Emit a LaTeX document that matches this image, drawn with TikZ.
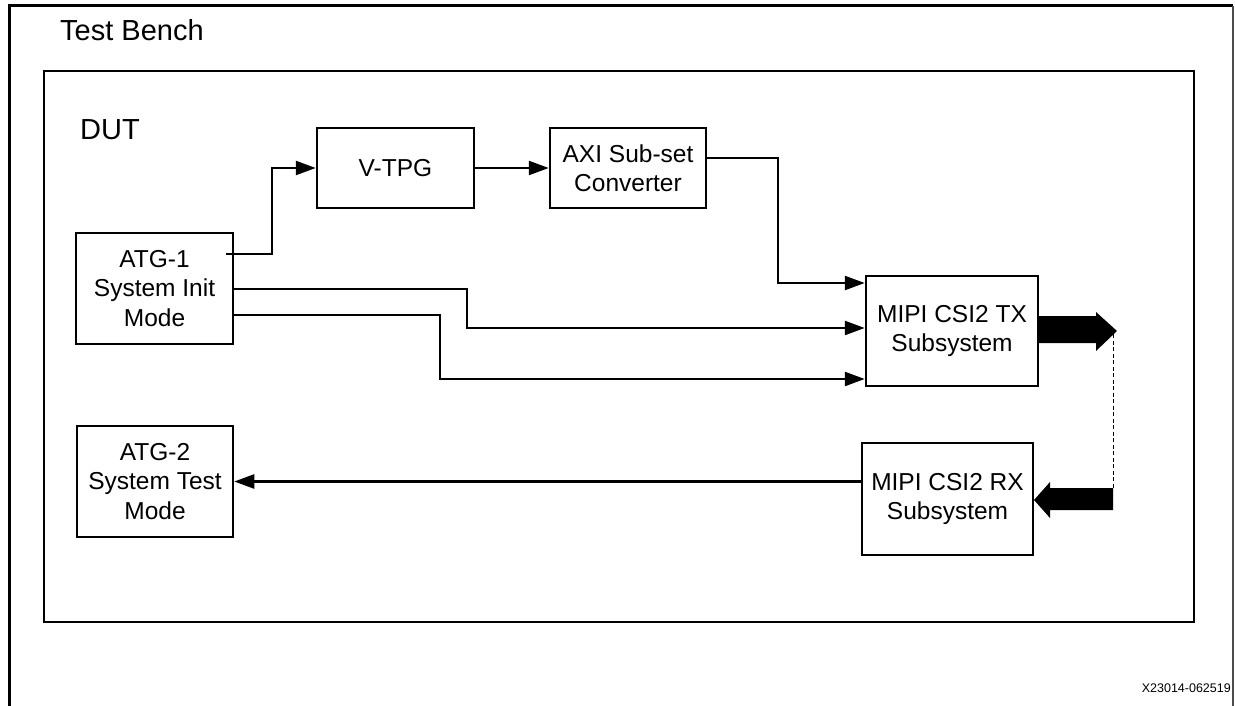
\documentclass[tikz,border=0pt]{standalone}
\usepackage{fontspec}
\setmainfont{Liberation Sans}
\usetikzlibrary{arrows.meta,calc}
\begin{document}
\begin{tikzpicture}[x=1pt,y=-1pt,
  blk/.style={draw,line width=2.5pt,align=center,inner sep=0pt,font=\fontsize{24.5}{29.5}\selectfont},
  arr/.style={line width=2.5pt,-{Triangle[length=20pt,width=14pt]}},
  frame/.style={line width=2.5pt},
  title/.style={anchor=base west,inner sep=0pt,font=\fontsize{29}{32}\selectfont},
  fat/.style={fill=black,draw=none}]
\useasboundingbox (0,0) rectangle (1235,706);
% Test bench frame
\draw[line width=3pt] (9,706) -- (9,6) -- (1233,6);
\draw[line width=1.2pt,black!70] (1233,6) -- (1233,706);
\node[title] (tb) at (60,41) {Test Bench};
% DUT frame
\draw[frame] (44,71) rectangle (1194,622);
\node[title] (dut) at (80,140) {DUT};
% blocks
\node[blk,minimum width=157pt,minimum height=80pt] (vtpg) at (395.5,168) {V-TPG};
\node[blk,minimum width=156pt,minimum height=80pt] (axi) at (628,168) {AXI Sub-set\\Converter};
\node[blk,minimum width=157pt,minimum height=111pt] (atg1) at (154.5,288.5) {ATG-1\\System Init\\Mode};
\node[blk,minimum width=156pt,minimum height=111pt] (atg2) at (155,481.5) {ATG-2\\System Test\\Mode};
\node[blk,minimum width=172pt,minimum height=110pt] (tx) at (952,331) {MIPI CSI2 TX\\Subsystem};
\node[blk,minimum width=171pt,minimum height=112pt] (rx) at (947.5,499) {MIPI CSI2 RX\\Subsystem};
% connectors
\coordinate (s1) at (226,254);
\draw[arr] (s1) -- (272,254) |- (vtpg.west);
\draw[arr] (vtpg.east) -- (axi.west);
\draw[arr] ([yshift=10pt]axi.east) -- (778,158) |- ([yshift=48pt]tx.west);
\draw[arr] ([yshift=-0.5pt]atg1.east) -- (467,289) |- ([yshift=3pt]tx.west);
\draw[arr] ([yshift=-26.5pt]atg1.east) -- (440,315) |- ([yshift=-48pt]tx.west);
\draw[arr] (rx.west |- atg2.east) -- (atg2.east);
% fat arrows
\fill[fat] (1037,316) -- (1096,316) -- (1096,312) -- (1117,331) -- (1096,351) -- (1096,343) -- (1037,343) -- cycle;
\fill[fat] (1113,488) -- (1050,488) -- (1050,482) -- (1034,500) -- (1050,518) -- (1050,510) -- (1113,510) -- cycle;
\coordinate (d1) at (1113,334);
\coordinate (d2) at (1113,490);
\draw[line width=1pt,dash pattern=on 4pt off 2.5pt] (d1) -- (d2);
% id
\node[anchor=base east,inner sep=0pt,font=\fontsize{12.5}{14}\selectfont] (id) at (1231,692) {X23014-062519};
\end{tikzpicture}
\end{document}
